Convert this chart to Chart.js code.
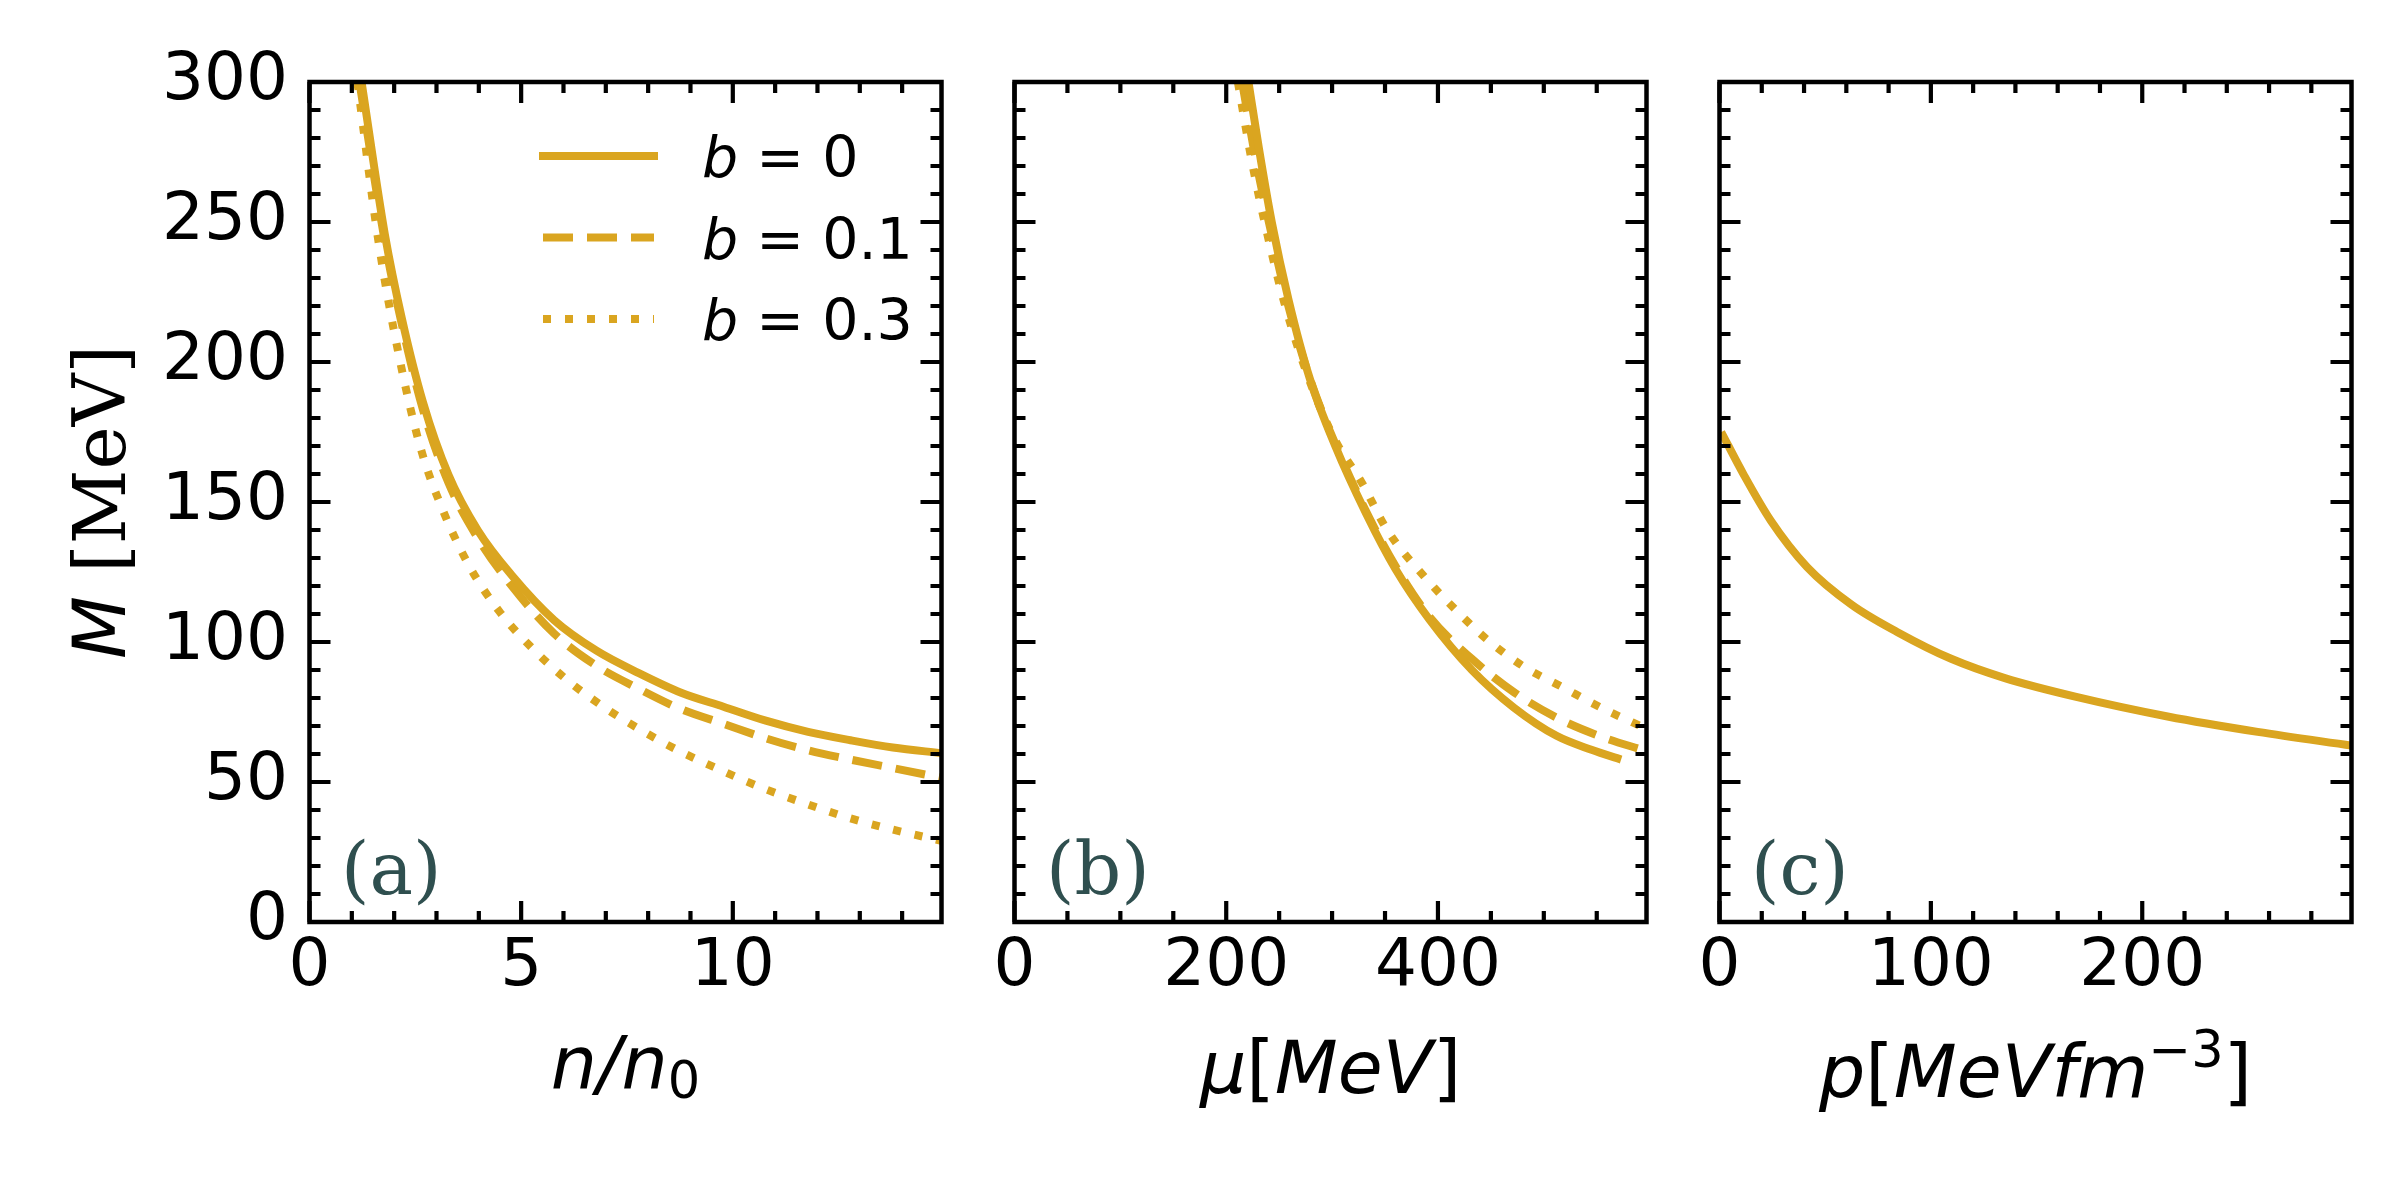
<!DOCTYPE html>
<html>
<head>
<meta charset="utf-8">
<script src="https://cdn.jsdelivr.net/npm/chart.js@4.4.1/dist/chart.umd.min.js"></script>
<style>
  html, body { margin: 0; padding: 0; background: #fff; }
  #wrap { position: relative; width: 2400px; height: 1200px; }
  #wrap canvas { position: absolute; left: 0; top: 0; }
</style>
</head>
<body>
<div id="wrap">
  <canvas id="panelA" width="2400" height="1200"></canvas>
  <canvas id="panelB" width="2400" height="1200"></canvas>
  <canvas id="panelC" width="2400" height="1200"></canvas>
</div>
<script>
// legend values of b
const bValues = ['0', '0.1', '0.3'];

// (a) M [MeV] against n/n0
const nA0 = [1.23, 1.78, 2.18, 2.68, 3.28, 3.98, 4.78, 5.78, 6.78, 7.78, 8.78, 9.78, 10.78, 11.78, 12.78, 13.78, 14.93];
const mA0 = [300, 245.6, 215.7, 185.7, 159.8, 139.8, 123.8, 107.8, 96.9, 88.9, 81.9, 76.9, 71.9, 67.9, 64.9, 62.3, 60.3];
const nA1 = [1.18, 1.78, 2.18, 2.68, 3.28, 3.98, 4.78, 5.78, 6.78, 7.78, 8.78, 9.78, 10.78, 11.78, 12.78, 13.78, 14.93];
const mA1 = [300, 243, 213.5, 183, 157, 137, 120, 103, 91.5, 83.3, 76, 70.8, 65.6, 61.3, 58, 55, 51.5];
const nA3 = [1.13, 1.63, 2.13, 2.63, 3.18, 3.78, 4.48, 5.28, 6.08, 6.98, 7.78, 8.68, 9.68, 10.68, 11.68, 12.78, 13.78, 14.93];
const mA3 = [300, 243, 201, 169, 146, 127, 111, 97.5, 86.5, 76.5, 69, 61.5, 54.5, 48, 42.5, 37, 33, 29];

// (b) M [MeV] against mu [MeV]
const muB0 = [221, 231, 243, 259, 279, 303, 332, 360, 392, 432, 472, 512, 545, 573];
const mB0 = [300, 276, 250, 222, 194, 170, 146, 126, 108, 90, 76.5, 66.5, 61.5, 58];
const muB1 = [215, 228, 242, 258, 280, 305, 333, 360, 392, 432, 472, 512, 552, 597];
const mB1 = [300, 272, 247, 221, 193, 169, 146, 127, 109, 94, 82, 73, 66.5, 61];
const muB3 = [211, 224, 238, 255, 278, 303, 328, 352, 388, 418, 446, 482, 517, 557, 597];
const mB3 = [300, 272, 247, 221, 194, 172, 157, 140, 123, 111, 101, 91, 84, 76, 69];

// (c) M [MeV] against p [MeV fm^-3]
const pC0 = [0.8, 11.5, 24.3, 41.4, 62.7, 84, 109.6, 135, 169.3, 212, 254.6, 299];
const mC0 = [175, 159.7, 143.3, 126.8, 113.2, 103.6, 94, 87.1, 80.3, 73.4, 67.9, 63];

// tick labels
const yMajor = [0, 50, 100, 150, 200, 250, 300];
const xMajorA = [0, 5, 10];
const xMajorB = [0, 200, 400];
const xMajorC = [0, 100, 200];

const GOLD = '#DAA520';
const TAG = '#2F4F4F';
const DASHES = [[], [30, 14], [8, 14]];
const TOP = 82, BOTTOM = 922, PANEL_W = 632;

const SANS = '"DejaVu Sans"';
const SERIF = '"DejaVu Serif"';
const LAB = 73, SUB = 51;

function drawRuns(ctx, runs, x, y, center) {
  let w = 0;
  runs.forEach(r => { ctx.font = r[1]; w += ctx.measureText(r[0]).width; });
  let cx = center ? x - w / 2 : x;
  runs.forEach(r => {
    ctx.font = r[1];
    ctx.fillText(r[0], cx, y + (r[2] || 0));
    cx += ctx.measureText(r[0]).width;
  });
}

const panels = [
  {
    id: 'panelA', left: 309.5, xMax: 14.93, xMajor: xMajorA, xMinor: 1, yLabels: true, tag: '(a)', legend: true,
    series: [[nA0, mA0, 0], [nA1, mA1, 1], [nA3, mA3, 2]],
    titleY: 1088,
    title: [['n/n', `italic ${LAB}px ${SANS}`], ['0', `${SUB}px ${SANS}`, 10]]
  },
  {
    id: 'panelB', left: 1014.5, xMax: 597, xMajor: xMajorB, xMinor: 50, yLabels: false, tag: '(b)',
    series: [[muB0, mB0, 0], [muB1, mB1, 1], [muB3, mB3, 2]],
    titleY: 1093,
    title: [['\u03bc', `italic ${LAB}px ${SANS}`], ['[', `${LAB}px ${SANS}`], ['MeV', `italic ${LAB}px ${SANS}`], [']', `${LAB}px ${SANS}`]]
  },
  {
    id: 'panelC', left: 1719.5, xMax: 299, xMajor: xMajorC, xMinor: 20, yLabels: false, tag: '(c)',
    series: [[pC0, mC0, 0]],
    titleY: 1097,
    title: [['p', `italic ${LAB}px ${SANS}`], ['[', `${LAB}px ${SANS}`], ['MeVfm', `italic ${LAB}px ${SANS}`],
            ['\u22123', `${SUB}px ${SANS}`, -30], [']', `${LAB}px ${SANS}`]]
  }
];

function framePlugin(p) {
  return {
    id: 'frame' + p.id,
    afterDraw(chart) {
      const { ctx, chartArea: a, scales: { x, y } } = chart;
      ctx.save();
      ctx.strokeStyle = '#000';
      ctx.lineWidth = 4.5;
      ctx.strokeRect(a.left, a.top, a.right - a.left, a.bottom - a.top);

      // inward ticks on all four sides
      ctx.lineWidth = 4.2;
      ctx.beginPath();
      for (let i = 0; i * p.xMinor <= p.xMax + 1e-9; i++) {
        const v = i * p.xMinor;
        const px = x.getPixelForValue(v);
        const len = p.xMajor.includes(v) ? 21 : 11;
        ctx.moveTo(px, a.bottom); ctx.lineTo(px, a.bottom - len);
        ctx.moveTo(px, a.top); ctx.lineTo(px, a.top + len);
      }
      for (let i = 0; i * 10 <= 300; i++) {
        const v = i * 10;
        const py = y.getPixelForValue(v);
        const len = yMajor.includes(v) ? 21 : 11;
        ctx.moveTo(a.left, py); ctx.lineTo(a.left + len, py);
        ctx.moveTo(a.right, py); ctx.lineTo(a.right - len, py);
      }
      ctx.stroke();

      // panel tag
      ctx.fillStyle = TAG;
      ctx.textBaseline = 'alphabetic';
      ctx.font = `73px ${SERIF}`;
      ctx.fillText(p.tag, a.left + 31.5, 894);

      // x title
      ctx.fillStyle = '#000';
      drawRuns(ctx, p.title, (a.left + a.right) / 2, p.titleY, true);

      if (p.yLabels) {
        ctx.save();
        ctx.translate(125, (a.top + a.bottom) / 2);
        ctx.rotate(-Math.PI / 2);
        drawRuns(ctx, [['M', `italic ${LAB}px ${SANS}`], [' [MeV]', `${LAB}px ${SERIF}`]], 0, 0, true);
        ctx.restore();
      }

      if (p.legend) {
        chart.data.datasets.forEach((ds, i) => {
          const rowY = 156 + i * 81.5;
          ctx.strokeStyle = ds.borderColor;
          ctx.lineWidth = 8;
          ctx.lineCap = ds.borderDash.length ? 'butt' : 'square';
          ctx.setLineDash(ds.borderDash);
          ctx.beginPath();
          ctx.moveTo(543, rowY); ctx.lineTo(654, rowY);
          ctx.stroke();
          ctx.setLineDash([]);
          ctx.fillStyle = '#000';
          drawRuns(ctx, [['b', `italic 57px ${SANS}`], [' = ' + bValues[i], `57px ${SANS}`]], 702, rowY + 21, false);
        });
      }
      ctx.restore();
    }
  };
}

function makePanel(p) {
  const datasets = p.series.map(s => ({
    label: 'b = ' + bValues[s[2]],
    data: s[0].map((v, k) => ({ x: v, y: s[1][k] })),
    borderColor: GOLD,
    borderWidth: 8,
    borderDash: DASHES[s[2]],
    borderCapStyle: 'butt',
    pointRadius: 0,
    fill: false,
    cubicInterpolationMode: 'monotone',
    clip: 0
  }));

  return new Chart(document.getElementById(p.id), {
    type: 'line',
    data: { datasets },
    options: {
      responsive: false,
      animation: false,
      devicePixelRatio: 1,
      layout: {
        autoPadding: false,
        padding: { left: 0, right: 2400 - p.left - PANEL_W, top: TOP, bottom: 0 }
      },
      plugins: { legend: { display: false }, tooltip: { enabled: false } },
      scales: {
        x: {
          type: 'linear', min: 0, max: p.xMax,
          grid: { display: false, drawTicks: false },
          border: { display: false },
          // the axis box is kept as tall as the space under the frame, labels are clipped to it
          afterFit(s) { s.height = 1200 - BOTTOM; },
          afterBuildTicks(s) { s.ticks = p.xMajor.map(v => ({ value: v })); },
          ticks: { font: { family: 'DejaVu Sans', size: 66 }, color: '#000', padding: 6, autoSkip: false, maxRotation: 0 }
        },
        y: {
          type: 'linear', min: 0, max: 300,
          grid: { display: false, drawTicks: false },
          border: { display: false },
          afterFit(s) { s.width = p.left; },
          afterBuildTicks(s) { s.ticks = yMajor.map(v => ({ value: v })); },
          ticks: { display: p.yLabels, font: { family: 'DejaVu Sans', size: 66 }, color: '#000', padding: 21.5, autoSkip: false }
        }
      }
    },
    plugins: [framePlugin(p)]
  });
}

panels.forEach(makePanel);
</script>
</body>
</html>
